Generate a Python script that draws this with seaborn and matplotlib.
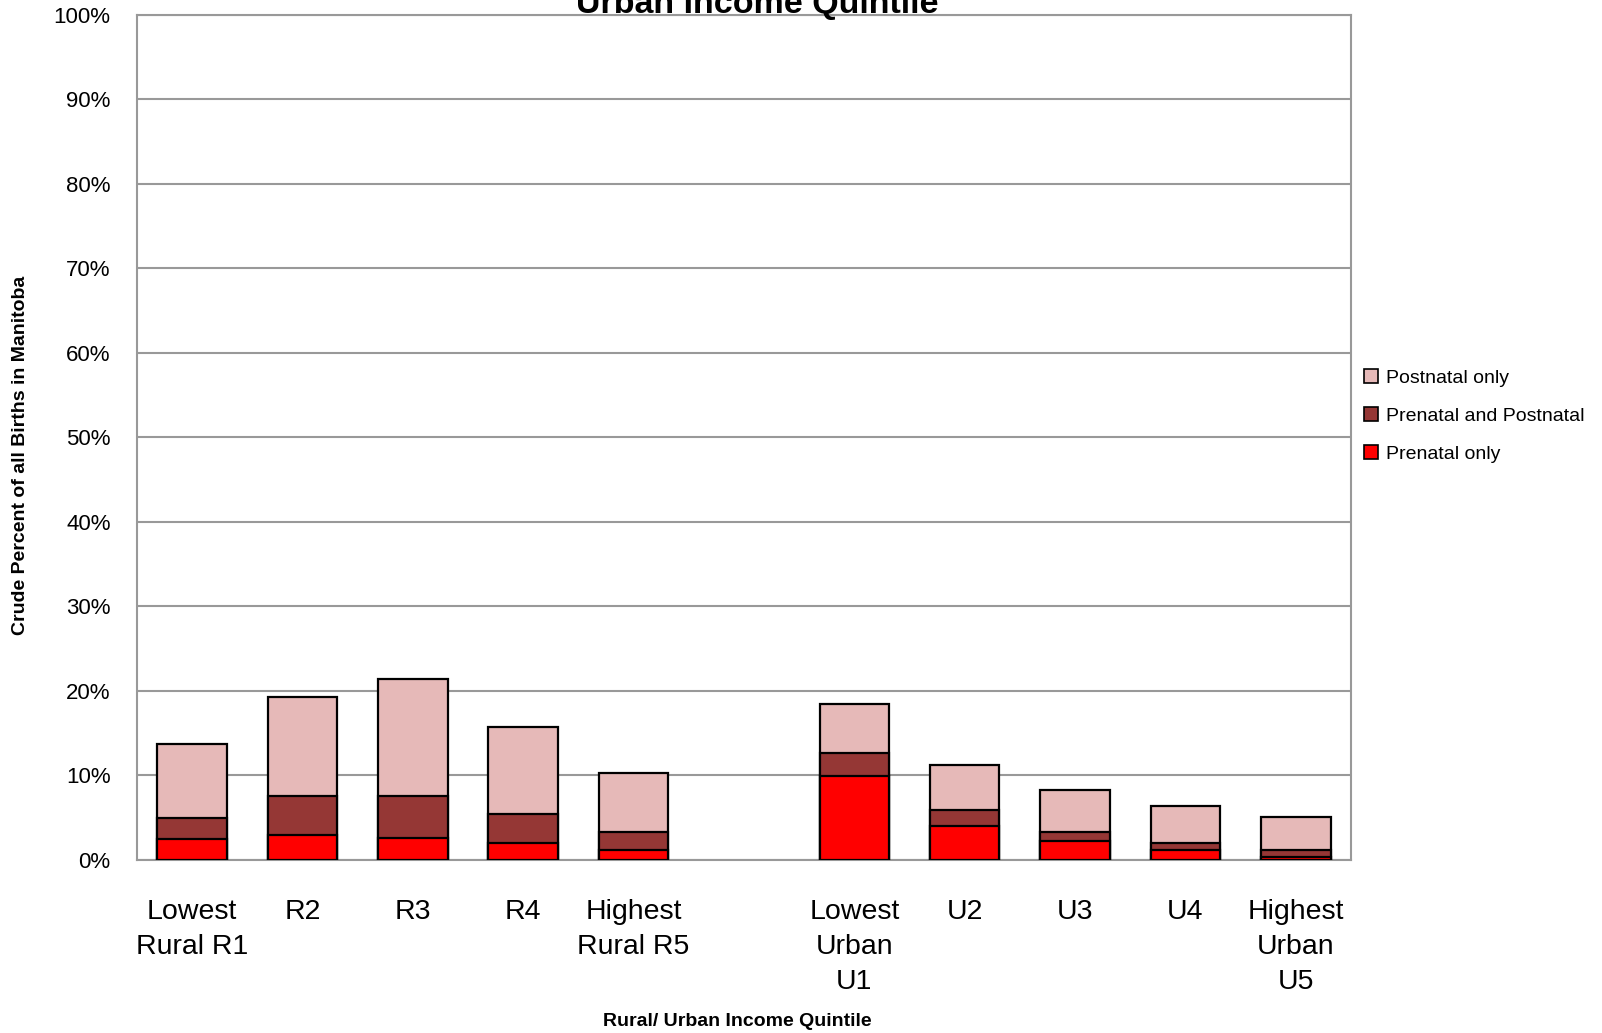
import matplotlib
matplotlib.use("Agg")
import matplotlib.pyplot as plt
import seaborn as sns
import pandas as pd
from matplotlib.patches import Patch
from matplotlib.ticker import FuncFormatter

# ---- data (percent of all births) ----
categories = ["R1", "R2", "R3", "R4", "R5", "U1", "U2", "U3", "U4", "U5"]
tick_labels = ["Lowest\nRural R1", "R2", "R3", "R4", "Highest\nRural R5", "",
               "Lowest\nUrban\nU1", "U2", "U3", "U4", "Highest\nUrban\nU5"]
prenatal_only = [2.45, 2.9, 2.65, 2.05, 1.2, 9.9, 4.0, 2.2, 1.15, 0.3]
prenatal_and_postnatal = [2.55, 4.7, 4.95, 3.4, 2.1, 2.8, 1.9, 1.1, 0.9, 0.9]
postnatal_only = [8.75, 11.7, 13.8, 10.25, 7.05, 5.8, 5.3, 4.95, 4.3, 3.85]
series_names = ["Postnatal only", "Prenatal and Postnatal", "Prenatal only"]
colors = {"Postnatal only": "#E6B9B8",
          "Prenatal and Postnatal": "#953735",
          "Prenatal only": "#FF0000"}

order = ["R1", "R2", "R3", "R4", "R5", "gap", "U1", "U2", "U3", "U4", "U5"]

df = pd.DataFrame({
    "cat": categories,
    "pre": prenatal_only,
    "both": prenatal_and_postnatal,
    "post": postnatal_only,
})
df["c1"] = df["pre"]
df["c2"] = df["pre"] + df["both"]
df["c3"] = df["c2"] + df["post"]

sns.set_theme(style="white")
plt.rcParams["font.family"] = ["Liberation Sans", "DejaVu Sans"]
for k in ["text.color", "axes.labelcolor", "xtick.color", "ytick.color"]:
    plt.rcParams[k] = "black"

fig = plt.figure(figsize=(16.02, 10.33), dpi=100)
ax = fig.add_axes([0.0855, 0.1675, 0.7578, 0.818])

for col, name in [("c3", "Postnatal only"), ("c2", "Prenatal and Postnatal"),
                  ("c1", "Prenatal only")]:
    sns.barplot(data=df, x="cat", y=col, order=order, color=colors[name],
                width=0.63, edgecolor="black", linewidth=1.6, ax=ax,
                saturation=1, errorbar=None, zorder=3)

ax.set_ylim(0, 100)
ax.set_xlim(-0.5, len(order) - 0.5)
ax.set_yticks(range(0, 101, 10))
ax.yaxis.set_major_formatter(FuncFormatter(lambda v, p: f"{int(v)}%"))
ax.set_xticks(range(len(order)))
ax.set_xticklabels(tick_labels, fontsize=20.5, linespacing=1.45)
ax.tick_params(axis="x", length=0, pad=28)
ax.tick_params(axis="y", length=0, pad=19, labelsize=16)
ax.grid(axis="y", color="#999999", linewidth=1.5, zorder=0)
ax.set_axisbelow(True)
for s in ax.spines.values():
    s.set_color("#999999")
    s.set_linewidth(1.5)
    s.set_visible(True)

ax.set_xlabel("")
ax.set_ylabel("")
fig.text(737 / 1602, 1 - 1022 / 1033, "Rural/ Urban Income Quintile",
         ha="center", va="center", fontsize=14, fontweight="bold")
fig.text(21 / 1602, 1 - 455 / 1033, "Crude Percent of all Births in Manitoba",
         ha="center", va="center", rotation=90, fontsize=14, fontweight="bold")

fig.text(757 / 1602, 1 - 12.7 / 1033, "Urban Income Quintile", ha="center",
         va="baseline", fontsize=24.5, fontweight="bold")

handles = [Patch(facecolor=colors[n], edgecolor="black", linewidth=1.2, label=n)
           for n in series_names]
leg = fig.legend(handles=handles, loc="center left",
                 bbox_to_anchor=(0.8405, 1 - 416 / 1033), frameon=False,
                 fontsize=14, handlelength=0.7, handleheight=0.7,
                 handletextpad=0.45, labelspacing=1.05)

fig.savefig("out.png", dpi=100)
